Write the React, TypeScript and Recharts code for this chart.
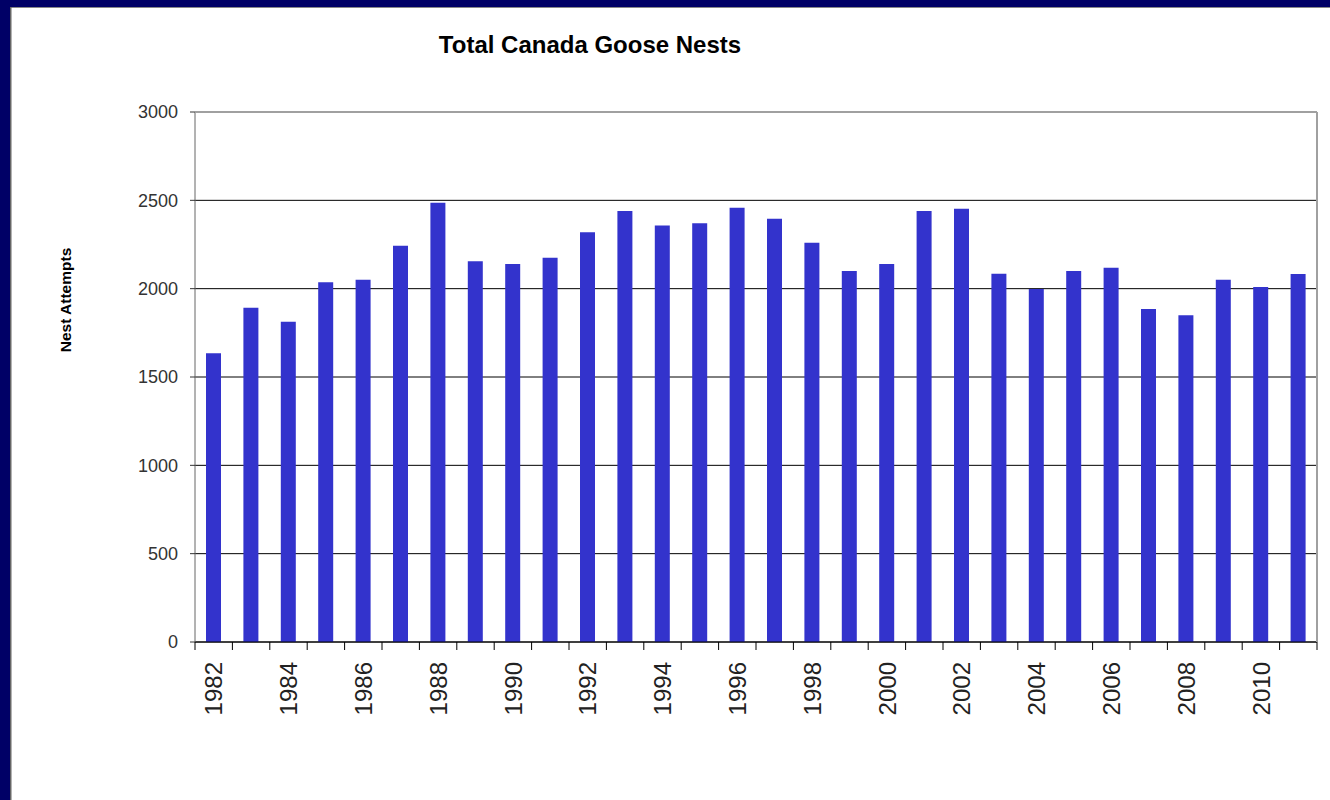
import { Bar, BarChart, CartesianGrid, XAxis, YAxis } from "recharts";

const years = [
  "1982", "1983", "1984", "1985", "1986", "1987", "1988", "1989", "1990", "1991",
  "1992", "1993", "1994", "1995", "1996", "1997", "1998", "1999", "2000", "2001",
  "2002", "2003", "2004", "2005", "2006", "2007", "2008", "2009", "2010", "2011",
];

const nests = [
  1634, 1892, 1813, 2036, 2051, 2243, 2486, 2155, 2139, 2175,
  2320, 2439, 2357, 2370, 2458, 2396, 2260, 2100, 2139, 2439,
  2453, 2085, 1998, 2100, 2119, 1885, 1849, 2051, 2009, 2083,
];

const yTicks = [0, 500, 1000, 1500, 2000, 2500, 3000];

const data = years.map((year, i) => ({ year, nests: nests[i] }));

const FONT = "'Liberation Sans', Arial, sans-serif";
const NAVY = "#000066";
const BAR = "#3333CC";

const W = 1330;
const H = 800;
const M = { top: 112, right: 13, bottom: 0, left: 0 };
const Y_AXIS_W = 195;
const X_AXIS_H = 158;
const PLOT_W = W - M.left - M.right - Y_AXIS_W;
const BAND = PLOT_W / years.length;

function YearTick(props: any) {
  const { x, y, index } = props;
  const half = BAND / 2;
  return (
    <g>
      <line x1={x - half} x2={x - half} y1={y} y2={y + 8} stroke="#000" />
      {index === years.length - 1 && (
        <line x1={x + half} x2={x + half} y1={y} y2={y + 8} stroke="#000" />
      )}
      {index % 2 === 0 && (
        <text
          x={x}
          y={y + 20}
          transform={`rotate(-90, ${x}, ${y + 20})`}
          textAnchor="end"
          dy="0.36em"
          fontSize={24}
          fontFamily={FONT}
          fill="#222"
        >
          {props.payload.value}
        </text>
      )}
    </g>
  );
}

export default function App() {
  const plotTop = M.top;
  const plotBottom = H - M.bottom - X_AXIS_H;
  const plotLeft = M.left + Y_AXIS_W;
  const plotRight = W - M.right;
  return (
    <div
      style={{
        position: "absolute",
        left: 0,
        top: 0,
        width: W,
        height: H,
        background: "#fff",
        overflow: "hidden",
      }}
    >
      <BarChart width={W} height={H} data={data} margin={M}>
        <CartesianGrid horizontal vertical={false} stroke="#000" strokeOpacity={1} />
        <XAxis
          dataKey="year"
          interval={0}
          height={X_AXIS_H}
          axisLine={{ stroke: "#000" }}
          tickLine={false}
          tickSize={0}
          tickMargin={0}
          tick={<YearTick />}
        />
        <YAxis
          width={Y_AXIS_W}
          domain={[0, 3000]}
          ticks={yTicks}
          interval={0}
          axisLine={{ stroke: "#666" }}
          tickLine={{ stroke: "#333" }}
          tickSize={5}
          tickMargin={12}
          tick={{ fontSize: 18, fontFamily: FONT, fill: "#333" }}
        />
        <Bar dataKey="nests" fill={BAR} barSize={15} isAnimationActive={false} />
      </BarChart>
      <svg
        width={W}
        height={H}
        style={{ position: "absolute", left: 0, top: 0, pointerEvents: "none" }}
      >
        <line x1={plotLeft} x2={plotRight} y1={plotTop} y2={plotTop} stroke="#a0a0a0" strokeWidth={2} />
        <line x1={plotRight} x2={plotRight} y1={plotTop} y2={plotBottom} stroke="#a0a0a0" strokeWidth={2} />
        <text
          x={590}
          y={45}
          dy="0.35em"
          textAnchor="middle"
          fontSize={24}
          fontWeight="bold"
          fontFamily={FONT}
          fill="#000"
        >
          Total Canada Goose Nests
        </text>
        <text
          x={66}
          y={300}
          dy="0.35em"
          transform="rotate(-90, 66, 300)"
          textAnchor="middle"
          fontSize={15.5}
          fontWeight="bold"
          fontFamily={FONT}
          fill="#000"
        >
          Nest Attempts
        </text>
        <rect x={0} y={0} width={W} height={7} fill={NAVY} />
        <rect x={0} y={0} width={10} height={H} fill={NAVY} />
        <line x1={10} x2={W} y1={7.5} y2={7.5} stroke="#888" />
        <line x1={10.75} x2={10.75} y1={7} y2={H} stroke="#666" strokeWidth={1.5} />
      </svg>
    </div>
  );
}
